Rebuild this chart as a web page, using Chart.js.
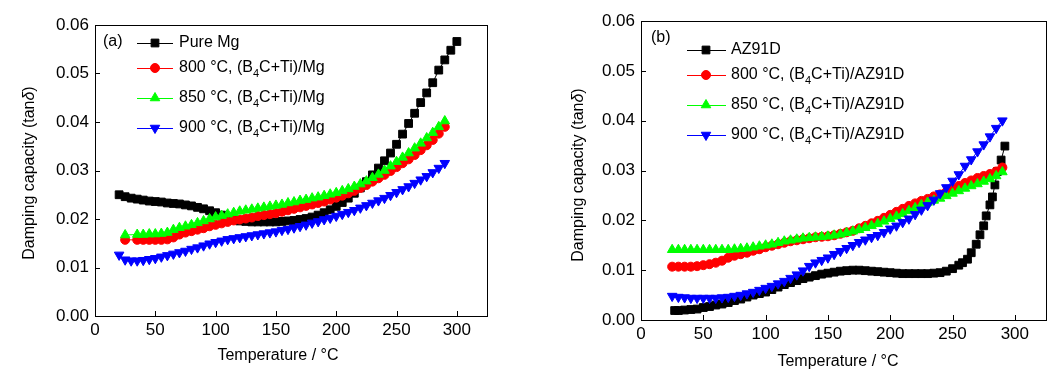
<!DOCTYPE html>
<html>
<head>
<meta charset="utf-8">
<script src="https://cdn.jsdelivr.net/npm/chart.js@4.4.1/dist/chart.umd.min.js"></script>
<style>
  html, body { margin: 0; padding: 0; background: #fff; }
  #wrap { position: relative; width: 1059px; height: 376px; overflow: hidden; }
  .panel { position: absolute; top: 0; height: 376px; }
  #panel_a { left: 0; width: 530px; }
  #panel_b { left: 530px; width: 529px; }
</style>
</head>
<body>
<div id="wrap">
  <div class="panel" id="panel_a"><canvas id="chart_a" width="530" height="376"></canvas></div>
  <div class="panel" id="panel_b"><canvas id="chart_b" width="529" height="376"></canvas></div>
</div>
<script>
// ---- data ----
var xTicks = [0, 50, 100, 150, 200, 250, 300];
var yTicks = [0, 0.01, 0.02, 0.03, 0.04, 0.05, 0.06];

// (a) temperatures, deg C
var tempsA = [20,25,30,35,40,45,50,55,60,65,70,75,80,85,90,95,100,105,110,115,120,125,130,135,140,145,150,155,160,165,170,175,180,185,190,195,200,205,210,215,220,225,230,235,240,245,250,255,260,265,270,275,280,285,290,295,300];
var pureMg = [.0250,.0246,.0243,.0241,.0239,.0237,.0236,.0235,.0233,.0232,.0231,.0229,.0227,.0224,.0221,.0217,.0213,.0208,.0203,.0199,.0196,.0195,.0194,.0194,.0194,.0194,.0194,.0195,.0196,.0197,.0199,.0201,.0204,.0208,.0213,.0219,.0226,.0234,.0243,.0253,.0264,.0277,.0291,.0305,.0320,.0336,.0354,.0375,.0397,.0418,.0440,.0460,.0481,.0507,.0528,.0548,.0566];
var mg800 = [null,.0157,null,.0157,.0157,.0157,.0157,.0157,.0158,.0162,.0168,.0172,.0175,.0178,.0181,.0185,.0188,.0191,.0194,.0197,.0199,.0201,.0203,.0206,.0208,.0210,.0212,.0215,.0218,.0221,.0224,.0227,.0230,.0233,.0236,.0240,.0244,.0248,.0253,.0258,.0264,.0270,.0277,.0284,.0291,.0299,.0307,.0315,.0323,.0332,.0342,.0352,.0363,.0376,.0390,null,null];
var mg850 = [null,.0167,null,.0168,.0168,.0169,.0169,.0170,.0172,.0178,.0182,.0185,.0188,.0192,.0196,.0200,.0204,.0207,.0210,.0213,.0216,.0218,.0220,.0222,.0224,.0226,.0228,.0230,.0233,.0235,.0238,.0240,.0243,.0245,.0248,.0251,.0254,.0258,.0262,.0267,.0272,.0278,.0285,.0292,.0300,.0309,.0318,.0327,.0336,.0346,.0356,.0367,.0378,.0390,.0402,null,null];
var mg900 = [.0126,.0116,.0114,.0114,.0115,.0117,.0119,.0122,.0125,.0128,.0131,.0134,.0138,.0141,.0145,.0149,.0152,.0155,.0158,.0160,.0162,.0164,.0166,.0168,.0170,.0172,.0174,.0177,.0179,.0182,.0185,.0188,.0192,.0195,.0199,.0202,.0206,.0210,.0214,.0218,.0223,.0228,.0233,.0238,.0243,.0249,.0255,.0261,.0267,.0274,.0281,.0288,.0296,.0305,.0315,null,null];

// (b)
var tempsAZ = [27,30,35,40,45,50,55,60,65,70,75,80,85,90,95,100,105,110,115,120,125,130,135,140,145,150,155,160,165,170,175,180,185,190,195,200,205,210,215,220,225,230,235,240,245,250,255,258,262,265,269,272,275,277,280,282,284,286,289,292];
var az91d = [.0019,.0019,.0020,.0021,.0022,.0025,.0027,.0030,.0032,.0035,.0039,.0042,.0046,.0050,.0053,.0056,.0061,.0066,.0071,.0075,.0079,.0083,.0086,.0089,.0092,.0094,.0096,.0098,.0099,.0100,.0100,.0099,.0098,.0097,.0096,.0095,.0094,.0093,.0093,.0093,.0093,.0093,.0094,.0095,.0098,.0103,.0110,.0115,.0122,.0135,.0152,.0171,.0189,.0209,.0231,.0247,.0271,.0298,.0321,.0349];
var tempsB = [25,30,35,40,45,50,55,60,65,70,75,80,85,90,95,100,105,110,115,120,125,130,135,140,145,150,155,160,165,170,175,180,185,190,195,200,205,210,215,220,225,230,235,240,245,250,255,260,265,270,275,280,285,290];
var az800 = [.0107,.0107,.0107,.0107,.0108,.0110,.0112,.0115,.0119,.0125,.0129,.0132,.0135,.0139,.0142,.0146,.0149,.0152,.0155,.0158,.0160,.0162,.0164,.0166,.0167,.0168,.0170,.0173,.0176,.0179,.0184,.0189,.0194,.0199,.0205,.0211,.0217,.0223,.0229,.0234,.0239,.0243,.0248,.0252,.0257,.0263,.0269,.0275,.0280,.0285,.0289,.0293,.0298,.0306];
var az850 = [.0141,.0141,.0141,.0141,.0141,.0141,.0141,.0141,.0141,.0141,.0142,.0143,.0144,.0146,.0148,.0150,.0152,.0155,.0158,.0160,.0162,.0164,.0165,.0166,.0167,.0168,.0170,.0172,.0175,.0178,.0181,.0185,.0189,.0193,.0198,.0203,.0208,.0213,.0219,.0225,.0231,.0236,.0240,.0244,.0249,.0254,.0259,.0264,.0269,.0273,.0278,.0283,.0289,.0297];
var az900 = [.0048,.0046,.0045,.0044,.0044,.0044,.0044,.0044,.0045,.0046,.0048,.0050,.0053,.0056,.0060,.0064,.0068,.0073,.0078,.0084,.0091,.0099,.0108,.0115,.0120,.0125,.0132,.0138,.0144,.0150,.0156,.0161,.0166,.0170,.0176,.0183,.0189,.0196,.0203,.0212,.0221,.0230,.0241,.0254,.0266,.0279,.0292,.0309,.0322,.0338,.0352,.0368,.0385,.0400];

var labelsA = ['Pure Mg', '800 °C, (B_4C+Ti)/Mg', '850 °C, (B_4C+Ti)/Mg', '900 °C, (B_4C+Ti)/Mg'];
var labelsB = ['AZ91D', '800 °C, (B_4C+Ti)/AZ91D', '850 °C, (B_4C+Ti)/AZ91D', '900 °C, (B_4C+Ti)/AZ91D'];

var FONT = "'Liberation Sans', Arial, sans-serif";
Chart.defaults.font.family = FONT;
Chart.defaults.font.size = 17;
Chart.defaults.color = '#000';

var styles = [
  { color: '#000000', pointStyle: 'rect', radius: 5.5, rotation: 0 },
  { color: '#ff0000', pointStyle: 'circle', radius: 4.5, rotation: 0 },
  { color: '#00ff00', pointStyle: 'triangle', radius: 5.5, rotation: 0 },
  { color: '#0000ff', pointStyle: 'triangle', radius: 5.5, rotation: 180 }
];

var toPoints = function(temps, vals) {
  var pts = [];
  for (var i = 0; i < temps.length; i++) {
    if (vals[i] != null) pts.push({ x: temps[i], y: vals[i] });
  }
  return pts;
};

var makeDataset = function(label, pts, k) {
  var s = styles[k];
  return {
    label: label,
    data: pts,
    showLine: true,
    borderColor: s.color,
    backgroundColor: s.color,
    borderWidth: 1,
    pointStyle: s.pointStyle,
    pointRotation: s.rotation,
    pointRadius: s.radius,
    pointBorderWidth: 1,
    pointBorderColor: s.color,
    pointBackgroundColor: s.color,
    order: 4 - k
  };
};

// text with "_x" subscripts
var drawRich = function(ctx, text, x, y) {
  var parts = text.split('_');
  ctx.textBaseline = 'middle';
  ctx.textAlign = 'left';
  for (var i = 0; i < parts.length; i++) {
    var p = parts[i];
    if (i > 0) {
      ctx.font = '11px ' + FONT;
      ctx.fillText(p[0], x, y + 6);
      x += ctx.measureText(p[0]).width;
      p = p.slice(1);
    }
    ctx.font = '16px ' + FONT;
    ctx.fillText(p, x, y);
    x += ctx.measureText(p).width;
  }
};

var framePlugin = function(cfg) {
  return {
    id: 'frame_' + cfg.tag,
    afterDraw: function(chart) {
      var ctx = chart.ctx;
      var a = chart.chartArea;
      var xs = chart.scales.x, ys = chart.scales.y;
      ctx.save();
      ctx.strokeStyle = '#000';
      ctx.lineWidth = 1;
      ctx.strokeRect(Math.round(a.left) + 0.5, Math.round(a.top) + 0.5,
                     Math.round(a.right - a.left), Math.round(a.bottom - a.top));
      // inward ticks
      ctx.beginPath();
      xTicks.forEach(function(v) {
        var px = Math.round(xs.getPixelForValue(v)) + 0.5;
        ctx.moveTo(px, a.bottom);
        ctx.lineTo(px, a.bottom - 5);
      });
      yTicks.forEach(function(v) {
        var py = Math.round(ys.getPixelForValue(v)) + 0.5;
        ctx.moveTo(a.left, py);
        ctx.lineTo(a.left + 5, py);
      });
      ctx.stroke();

      ctx.fillStyle = '#000';
      // x title
      ctx.font = '16px ' + FONT;
      ctx.textAlign = 'center';
      ctx.textBaseline = 'middle';
      ctx.fillText('Temperature / °C', cfg.xTitle[0], cfg.xTitle[1]);
      // y title, italic delta
      ctx.save();
      ctx.translate(cfg.yTitle[0], cfg.yTitle[1]);
      ctx.rotate(-Math.PI / 2);
      var t1 = 'Damping capacity (tan', t2 = 'δ', t3 = ')';
      ctx.font = '16px ' + FONT;
      var w1 = ctx.measureText(t1).width, w3 = ctx.measureText(t3).width;
      ctx.font = 'italic 16px ' + FONT;
      var w2 = ctx.measureText(t2).width;
      var x0 = -(w1 + w2 + w3) / 2;
      ctx.textAlign = 'left';
      ctx.font = '16px ' + FONT;
      ctx.fillText(t1, x0, 0);
      ctx.font = 'italic 16px ' + FONT;
      ctx.fillText(t2, x0 + w1, 0);
      ctx.font = '16px ' + FONT;
      ctx.fillText(t3, x0 + w1 + w2, 0);
      ctx.restore();

      // panel tag and legend
      ctx.font = '16px ' + FONT;
      ctx.textAlign = 'left';
      ctx.fillText(cfg.tag, cfg.tagPos[0], cfg.tagPos[1]);
      chart.data.datasets.forEach(function(ds, i) {
        var y = cfg.legendY[i];
        var s = styles[i];
        ctx.strokeStyle = s.color;
        ctx.fillStyle = s.color;
        ctx.beginPath();
        ctx.moveTo(cfg.legendX[0], y + 0.5);
        ctx.lineTo(cfg.legendX[2], y + 0.5);
        ctx.stroke();
        Chart.helpers.drawPoint(ctx, { pointStyle: s.pointStyle, rotation: s.rotation, radius: s.radius, borderWidth: 1 }, cfg.legendX[1], y);
        ctx.fillStyle = '#000';
        drawRich(ctx, ds.label, cfg.legendX[3], y);
      });
      ctx.restore();
    }
  };
};

var makeChart = function(canvasId, datasets, cfg) {
  return new Chart(document.getElementById(canvasId).getContext('2d'), {
    type: 'scatter',
    data: { datasets: datasets },
    options: {
      responsive: false,
      animation: false,
      devicePixelRatio: 1,
      events: [],
      layout: { padding: cfg.padding },
      plugins: { legend: { display: false }, tooltip: { enabled: false } },
      scales: {
        x: {
          type: 'linear', min: 0, max: 325,
          afterBuildTicks: function(scale) { scale.ticks = xTicks.map(function(v) { return { value: v }; }); },
          afterFit: function(scale) { scale.height = cfg.xAxisH; },
          grid: { display: false, drawTicks: false },
          border: { display: false },
          ticks: { padding: cfg.xPad, maxRotation: 0, autoSkip: false, callback: function(v) { return String(v); } }
        },
        y: {
          type: 'linear', min: 0, max: 0.06,
          afterBuildTicks: function(scale) { scale.ticks = yTicks.map(function(v) { return { value: v }; }); },
          afterFit: function(scale) { scale.width = cfg.yAxisW; },
          grid: { display: false, drawTicks: false },
          border: { display: false },
          ticks: { padding: 6, autoSkip: false, callback: function(v) { return v.toFixed(2); } }
        }
      }
    },
    plugins: [framePlugin(cfg)]
  });
};

var setsA = [
  makeDataset(labelsA[0], toPoints(tempsA, pureMg), 0),
  makeDataset(labelsA[1], toPoints(tempsA, mg800), 1),
  makeDataset(labelsA[2], toPoints(tempsA, mg850), 2),
  makeDataset(labelsA[3], toPoints(tempsA, mg900), 3)
];
var setsB = [
  makeDataset(labelsB[0], toPoints(tempsAZ, az91d), 0),
  makeDataset(labelsB[1], toPoints(tempsB, az800), 1),
  makeDataset(labelsB[2], toPoints(tempsB, az850), 2),
  makeDataset(labelsB[3], toPoints(tempsB, az900), 3)
];

makeChart('chart_a', setsA, {
  tag: '(a)', tagPos: [103, 42],
  padding: { left: 0, top: 25, right: 43, bottom: 0 },
  yAxisW: 95, xAxisH: 60, xPad: 4,
  xTitle: [278, 356], yTitle: [30, 173],
  legendY: [43, 68, 98, 128], legendX: [137, 155, 173, 179]
});
makeChart('chart_b', setsB, {
  tag: '(b)', tagPos: [121, 38],
  padding: { left: 0, top: 21, right: 13, bottom: 0 },
  yAxisW: 111, xAxisH: 56, xPad: 4,
  xTitle: [308, 362], yTitle: [49, 175],
  legendY: [50, 75, 105, 135], legendX: [157, 176, 196, 201]
});
</script>
</body>
</html>
